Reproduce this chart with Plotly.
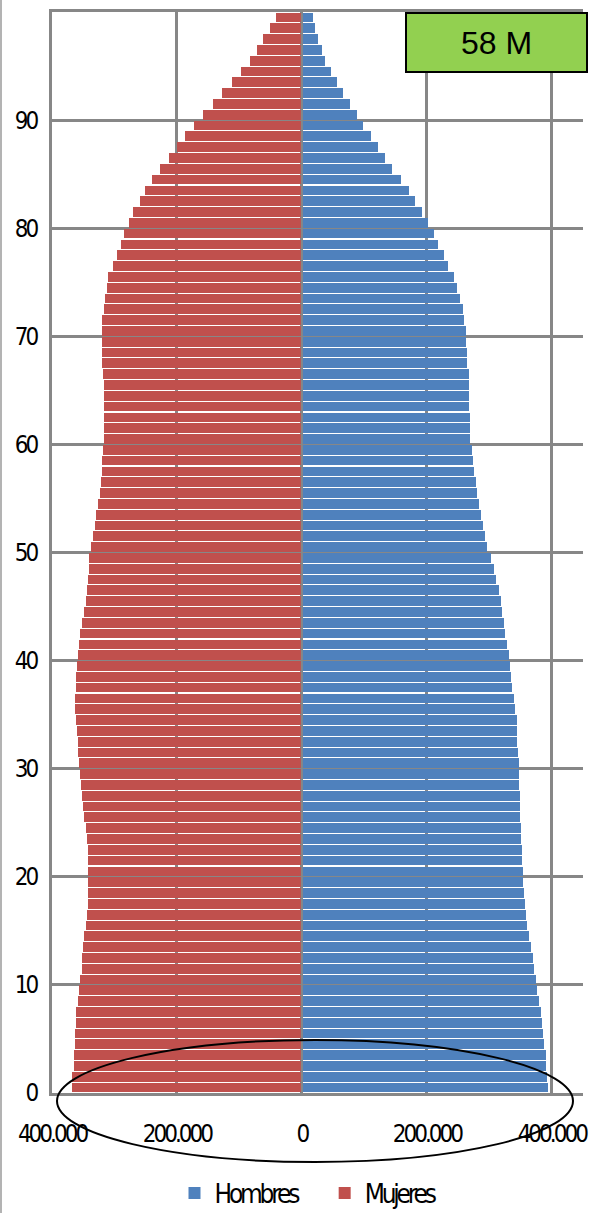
import plotly.graph_objects as go

# Population by single year of age (0-99)
ages = list(range(100))

hombres = [
    394700, 393000, 391000, 390400, 388300, 386000, 384000, 382000, 380000, 377000,
    375000, 372000, 370000, 366000, 363000, 361000, 359000, 357000, 356000, 353700,
    353700, 352000, 351600, 351000, 350000, 349500, 349000, 349000, 346800, 346800,
    346800, 346000, 345000, 344700, 344000, 341500, 339000, 336700, 334600, 332400,
    330800, 328000, 325500, 323000, 320000, 318000, 315400, 311000, 307000, 302000,
    297000, 293000, 290000, 286000, 283000, 281000, 278000, 276000, 274000, 272000,
    269000, 269000, 269000, 267000, 267000, 267000, 267000, 264000, 264000, 262000,
    262000, 260000, 257500, 252700, 248000, 243000, 233500, 227000, 217600, 210700,
    201600, 192000, 180300, 171300, 159000, 145000, 133000, 121800, 110000, 98400,
    88800, 77000, 65400, 55900, 46300, 37200, 32500, 25500, 20700, 18100,
]

mujeres = [
    368600, 367600, 365500, 365500, 363600, 363600, 362000, 361000, 359000, 357000,
    355000, 352600, 351600, 350500, 348400, 346000, 344000, 342400, 342400, 342400,
    342400, 342400, 343000, 344000, 346000, 348000, 350500, 352000, 354300, 355000,
    356600, 358000, 359000, 360000, 361000, 363600, 363600, 361000, 361000, 360700,
    359000, 357000, 355000, 352600, 349000, 346000, 344000, 342000, 341500, 340000,
    337800, 334000, 331000, 329000, 326500, 323900, 321700, 319600, 319600, 318500,
    317400, 317400, 317400, 317400, 317400, 317400, 318000, 319600, 319600, 319600,
    319600, 319600, 317000, 315000, 312600, 310500, 303000, 296000, 289000, 284000,
    277000, 270000, 258500, 251000, 239700, 227000, 213000, 199500, 187700, 173000,
    159000, 142600, 128000, 112000, 97600, 83000, 72400, 62700, 51000, 41300,
]

x_tickvals = [-400000, -200000, 0, 200000, 400000]
x_ticktext = ["400.000", "200.000", "0", "200.000", "400.000"]
y_tickvals = [0, 10, 20, 30, 40, 50, 60, 70, 80, 90, 100]
y_ticktext = ["0", "10", "20", "30", "40", "50", "60", "70", "80", "90", ""]

total_label = "58 M"

BLUE = "#4F81BD"
RED = "#C0504D"
GRID = "#878787"
NARROW = "DejaVu Sans Condensed, Liberation Sans Narrow, sans-serif"

# each bar sits between age a and a+1 on the vertical scale
y_pos = [a + 0.5 for a in ages]

fig = go.Figure()
fig.add_trace(go.Bar(
    name="Hombres", y=y_pos, x=hombres, orientation="h",
    width=0.9, marker=dict(color=BLUE, line=dict(width=0)),
))
fig.add_trace(go.Bar(
    name="Mujeres", y=y_pos, x=[-v for v in mujeres], orientation="h",
    width=0.9, marker=dict(color=RED, line=dict(width=0)),
))

W, H = 596, 1213
L, R, T, B = 52, 13, 12, 120
plot_w = W - L - R
plot_h = H - T - B


def px_x(px):
    return (px - L) / plot_w


def px_y(py):
    return (H - B - py) / plot_h


fig.update_layout(
    width=W, height=H,
    margin=dict(l=L, r=R, t=T, b=B, autoexpand=False),
    paper_bgcolor="white", plot_bgcolor="white",
    barmode="overlay", bargap=0,
    showlegend=True,
    legend=dict(
        orientation="h", x=px_x(318), xanchor="center",
        y=px_y(1193), yanchor="middle",
        font=dict(family=NARROW, size=26, color="black"),
        itemwidth=30, traceorder="normal",
    ),
    xaxis=dict(
        range=[-400000, 450000],
        tickvals=x_tickvals, ticktext=x_ticktext,
        showgrid=True, gridcolor=GRID, gridwidth=3,
        zeroline=False,
        showline=True, linecolor=GRID, linewidth=3, mirror=True,
        ticks="", ticklabelstandoff=17, ticklabeloverflow="allow",
        tickfont=dict(family=NARROW, size=24, color="black"),
        fixedrange=True,
    ),
    yaxis=dict(
        range=[0, 100],
        tickvals=y_tickvals, ticktext=y_ticktext,
        showgrid=True, gridcolor=GRID, gridwidth=3,
        zeroline=False,
        showline=True, linecolor=GRID, linewidth=3,
        ticks="", ticklabelstandoff=8,
        tickfont=dict(family=NARROW, size=24, color="black"),
        fixedrange=True,
    ),
    shapes=[
        # central axis line drawn over the bars
        dict(type="line", xref="x", yref="y", x0=0, x1=0, y0=0, y1=100,
             line=dict(color=GRID, width=2), layer="above"),
        # ellipse highlighting the youngest ages
        dict(type="circle", xref="paper", yref="paper",
             x0=px_x(57), x1=px_x(573), y0=px_y(1162), y1=px_y(1040),
             line=dict(color="black", width=2), layer="above"),
        # chart area border on the left
        dict(type="line", xref="paper", yref="paper",
             x0=px_x(1), x1=px_x(1), y0=px_y(1213), y1=px_y(0),
             line=dict(color="#9a9a9a", width=1.5), layer="above"),
    ],
    annotations=[
        dict(text=total_label, xref="paper", yref="paper",
             x=px_x(496.5), y=px_y(42.5), xanchor="center", yanchor="middle",
             showarrow=False, width=179, height=57, borderpad=0,
             bgcolor="#92D050", bordercolor="black", borderwidth=2,
             font=dict(family="Liberation Sans, Arial, sans-serif", size=32, color="black")),
    ],
)

# tighten the spacing of the condensed axis and legend labels
tighten_js = """
var gd = document.getElementById('{plot_id}');
function tighten() {
  gd.querySelectorAll('.xtick text, .ytick text').forEach(function (t) {
    t.style.letterSpacing = '-3px';
  });
  gd.querySelectorAll('.legendtext').forEach(function (t) {
    t.style.letterSpacing = '-3.2px';
  });
}
tighten();
gd.on('plotly_afterplot', tighten);
"""

fig.write_html("out.html", post_script=tighten_js)
